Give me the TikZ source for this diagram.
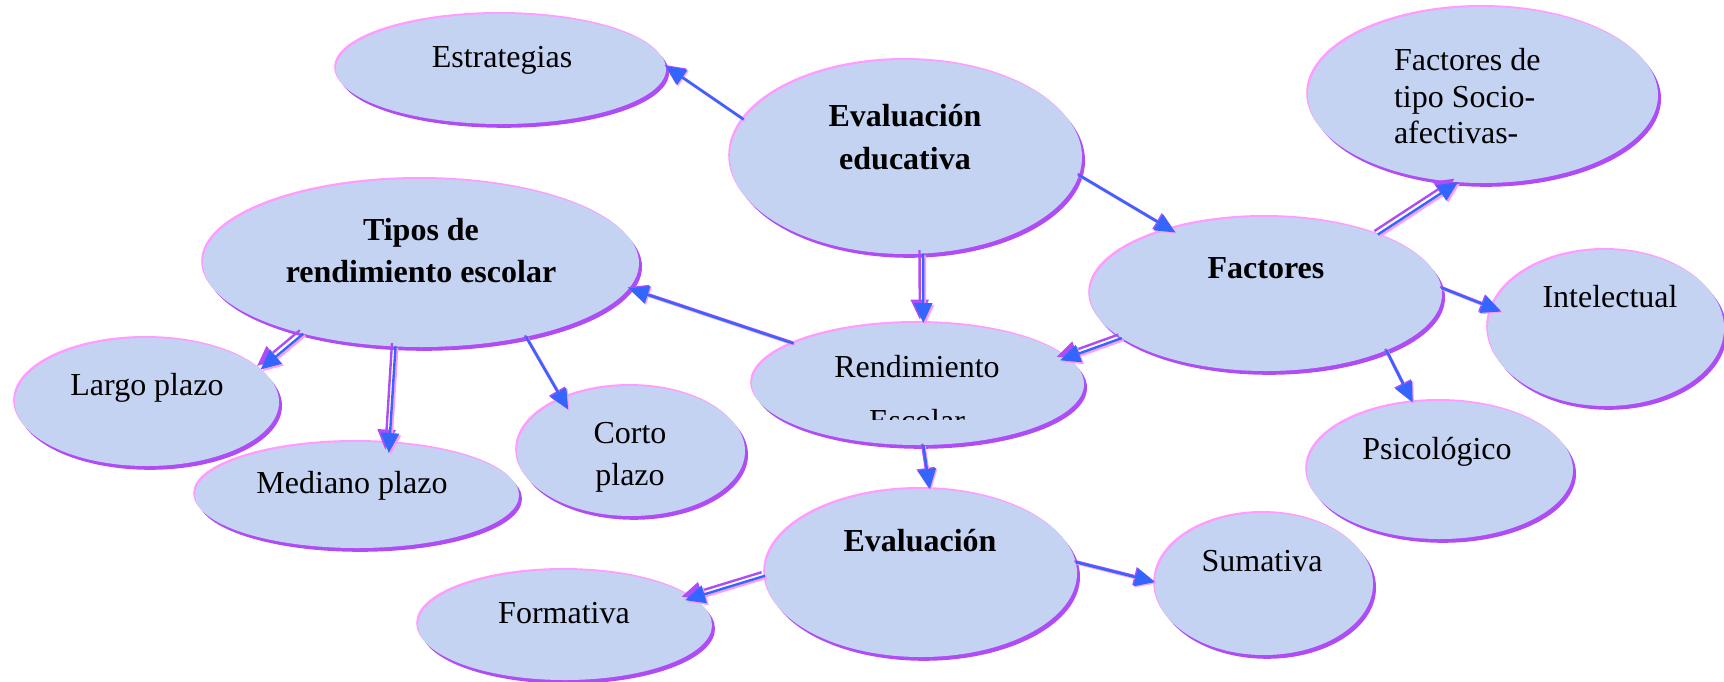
\documentclass[tikz,border=0pt]{standalone}
\usepackage{fontspec}
\setmainfont{Liberation Serif}
\usetikzlibrary{shapes.geometric,shadows,arrows.meta}
\definecolor{bubfill}{HTML}{C4D3F2}
\definecolor{bubpurple}{HTML}{B04CF6}
\definecolor{bubpink}{HTML}{FF9CFF}
\definecolor{arrblue}{HTML}{3366FF}
\tikzset{
  bub/.style={ellipse, fill=bubfill, inner sep=0pt, outer sep=0pt,
    general shadow={shadow xshift=1.5pt, shadow yshift=-1.9pt, fill=bubpurple},
    general shadow={shadow xshift=-0.9pt, shadow yshift=1pt, fill=bubpink}},
  txt/.style={font=\fontsize{16}{19}\selectfont, inner sep=0pt, outer sep=0pt, anchor=base},
  btxt/.style={txt, font=\fontsize{16}{19}\selectfont\bfseries},
  arr/.style={line width=1.2pt, -{Triangle[length=10pt,width=9pt]}},
}
\newcommand\myarr[3][]{%
  \draw[arr, bubpurple, #1] ([shift={(-1.2,-1.2)}]#2) -- ([shift={(-1.2,-1.2)}]#3);
  \draw[arr, bubpink, #1] ([shift={(1.2,1.2)}]#2) -- ([shift={(1.2,1.2)}]#3);
  \draw[arr, arrblue, #1] (#2) -- (#3);}
\newcommand\mydarr[3][]{%
  \draw[arr, bubpurple, #1] ([shift={(-3.5,-3.5)}]#2) -- ([shift={(-3.5,-3.5)}]#3);
  \draw[arr, bubpink, #1] ([shift={(1.8,1.8)}]#2) -- ([shift={(1.8,1.8)}]#3);
  \draw[arr, arrblue, #1] (#2) -- (#3);}
\begin{document}
\begin{tikzpicture}[x=0.5pt, y=-0.5pt]
\useasboundingbox (0,0) rectangle (1724,681);
% ellipses
\node[bub, minimum width=165pt, minimum height=55pt] (est) at (501,69) {};
\node[bub, minimum width=176pt, minimum height=97pt] (ee) at (906,157) {};
\node[bub, minimum width=175pt, minimum height=88pt] (fts) at (1483,95) {};
\node[bub, minimum width=218pt, minimum height=84pt] (tipos) at (421,263) {};
\node[bub, minimum width=176pt, minimum height=77pt] (fac) at (1266,294) {};
\node[bub, minimum width=118pt, minimum height=78pt] (intel) at (1606,328) {};
\node[bub, minimum width=166pt, minimum height=61pt] (rend) at (918,384) {};
\node[bub, minimum width=132pt, minimum height=64pt] (largo) at (147,402) {};
\node[bub, minimum width=162pt, minimum height=53pt] (med) at (357,495) {};
\node[bub, minimum width=114pt, minimum height=65pt] (corto) at (631,451) {};
\node[bub, minimum width=133pt, minimum height=69pt] (psic) at (1440,470) {};
\node[bub, minimum width=156pt, minimum height=84pt] (eval) at (921,573) {};
\node[bub, minimum width=109pt, minimum height=71pt] (sum) at (1264,584) {};
\node[bub, minimum width=147pt, minimum height=55pt] (form) at (565,625) {};
% texts
\node[txt] (t-est) at (502,67) {Estrategias};
\node[btxt] (t-ee1) at (905,126) {Evaluación};
\node[btxt] (t-ee2) at (905,169) {educativa};
\node[txt, anchor=base west] (t-fts1) at (1394,70) {Factores de};
\node[txt, anchor=base west] (t-fts2) at (1394,107) {tipo Socio-};
\node[txt, anchor=base west] (t-fts3) at (1394,143) {afectivas-};
\node[btxt] (t-tipos1) at (421,240) {Tipos de};
\node[btxt] (t-tipos2) at (421,282) {rendimiento escolar};
\node[btxt] (t-fac) at (1266,278) {Factores};
\node[txt] (t-intel) at (1610,307) {Intelectual};
\node[txt] (t-rend1) at (917,377) {Rendimiento};
\begin{scope}
  \clip (760,330) rectangle (1080,419);
  \node[txt] (t-rend2) at (917,431) {Escolar};
\end{scope}
\node[txt] (t-largo) at (147,395) {Largo plazo};
\node[txt] (t-med) at (352,493) {Mediano plazo};
\node[txt] (t-corto1) at (630,443) {Corto};
\node[txt] (t-corto2) at (630,485) {plazo};
\node[txt] (t-psic) at (1437,459) {Psicológico};
\node[btxt] (t-eval) at (920,551) {Evaluación};
\node[txt] (t-sum) at (1262,571) {Sumativa};
\node[txt] (t-form) at (564,623) {Formativa};
% connectors
\myarr{ee.167}{est.1}
\myarr[shorten >=-3pt]{ee.-6}{fac.146}
\mydarr{ee.-80}{rend.85}
\myarr{rend.162}{tipos.-7}
\mydarr[shorten >=-4pt]{fac.-163}{rend.10}
\mydarr{fac.28}{fts.-106}
\myarr[shorten >=-5pt]{fac.2}{intel.170}
\myarr{fac.-25}{psic.112}
\myarr{rend.-85}{eval.84}
\mydarr{tipos.-149}{largo.16}
\mydarr[shorten >=-5pt]{tipos.-107}{med.58}
\myarr[shorten >=-6pt]{tipos.-35}{corto.143}
\mydarr[shorten >=-4pt]{eval.-179}{form.12}
\myarr{eval.4}{sum.179}
\end{tikzpicture}
\end{document}
